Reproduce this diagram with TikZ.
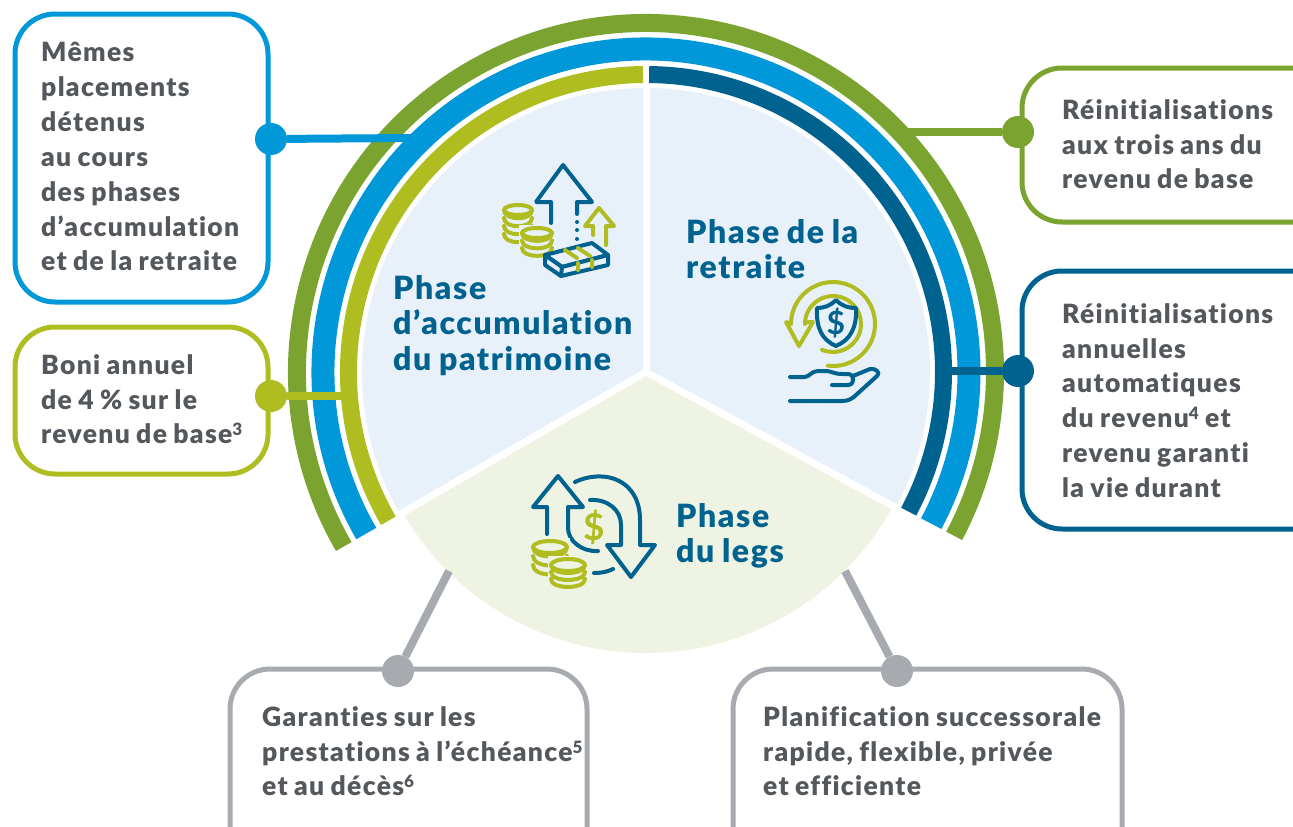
\documentclass[tikz,border=0pt]{standalone}
\usepackage{fontspec}
\setmainfont{Lato}
\newfontfamily\heavyfont[LetterSpace=5,WordSpace=0.82,Ligatures=NoCommon]{Lato Black}
\newfontfamily\titlefont[LetterSpace=5,WordSpace=0.85,Ligatures=NoCommon]{Lato Black}
\definecolor{cgreen}{HTML}{7AA32F}
\definecolor{cblue}{HTML}{0098D8}
\definecolor{clime}{HTML}{B0BD20}
\definecolor{cdark}{HTML}{00628F}
\definecolor{cgray}{HTML}{A7ABB0}
\definecolor{ctext}{HTML}{54585D}
\definecolor{pblue}{HTML}{E8F1FA}
\definecolor{pgreen}{HTML}{EFF3E3}
\newcommand{\supnum}[1]{\raisebox{8pt}{\fontsize{17pt}{17pt}\selectfont #1}}
\tikzset{
  x=1pt,y=-1pt,
  boxstyle/.style={draw=#1,line width=5pt,rounded corners=40pt,fill=white},
  dotstyle/.style={circle,fill=#1,inner sep=0pt,minimum size=32pt},
  linkstyle/.style={draw=#1,line width=8pt},
  bodytext/.style={anchor=north west,align=left,inner sep=0pt,text=ctext,font=\heavyfont\fontsize{26.5pt}{34.9pt}\selectfont},
  titletext/.style={anchor=north west,align=left,inner sep=0pt,text=cdark,font=\titlefont\fontsize{32pt}{35.5pt}\selectfont},
  ringstyle/.style={line width=#1},
  icondark/.style={draw=cdark,line width=4pt,line cap=round,line join=round},
  iconlime/.style={draw=clime,line width=4pt,line cap=round,line join=round},
}
\newcommand{\coinstack}[7]{% x,y,rx,ry,spacing,layers,background
  \fill[#7] (#1-#3-3,#2-#4-3) rectangle (#1+#3+3,#2+#5*#6+#4+3);
  \draw[iconlime,fill=none] (#1,#2) ellipse[x radius=#3pt,y radius=#4pt];
  \foreach \k in {1,...,#6}{
    \draw[iconlime] (#1-#3,#2+#5*\k-#5) .. controls (#1-#3,#2+#5*\k+#4*0.6) and (#1+#3,#2+#5*\k+#4*0.6) .. (#1+#3,#2+#5*\k-#5);
  }
}
\begin{document}
\begin{tikzpicture}
\path[use as bounding box,clip] (0,0) rectangle (1293,827);
\coordinate (c) at (646,372);
% pie
\fill[pblue] (c) -- ++(210:284pt) arc[start angle=210,end angle=-28.5,radius=284pt] -- cycle;
\fill[pgreen] (c) -- ++(210:281pt) arc[start angle=210,end angle=331.5,radius=281pt] -- cycle;
\draw[white,line width=7pt] (c) -- ++(90:290pt);
\draw[white,line width=7pt] (c) -- ++(210:290pt);
\draw[white,line width=7pt] (c) -- ++(331.5:290pt);
% rings
\draw[cgreen,ringstyle=18pt] (c) ++(210:349pt) arc[start angle=210,end angle=-28,radius=349pt];
\draw[cblue,ringstyle=23pt] (c) ++(210:323pt) arc[start angle=210,end angle=-28,radius=323pt];
\draw[clime,ringstyle=17pt] (c) ++(210:297.5pt) arc[start angle=210,end angle=90.6,radius=297.5pt];
\draw[cdark,ringstyle=17pt] (c) ++(89.4:297.5pt) arc[start angle=89.4,end angle=-28,radius=297.5pt];
% connector end points
\coordinate (ja) at (412,138);
\coordinate (jb) at (347,396);
\coordinate (jc) at (905,132);
\coordinate (jd) at (945,371);
\coordinate (je) at (449,571);
\coordinate (jf) at (845,571);
% boxes
\node[boxstyle=cblue,minimum width=253pt,minimum height=288pt] (ba) at (141.5,158) {};
\node[boxstyle=clime,minimum width=253pt,minimum height=147pt] (bb) at (141.5,400.5) {};
\node[boxstyle=cgreen,minimum width=320pt,minimum height=154pt] (bc) at (1182,145) {};
\node[boxstyle=cdark,minimum width=320pt,minimum height=258pt] (bd) at (1182,400) {};
\node[boxstyle=cgray,minimum width=357pt,minimum height=200pt] (be) at (408.5,769) {};
\node[boxstyle=cgray,minimum width=389pt,minimum height=200pt] (bf) at (927.5,769) {};
% dots
\node[dotstyle=cblue] (da) at (271,139) {};
\node[dotstyle=clime] (db) at (271,396) {};
\node[dotstyle=cgreen] (dc) at (1018,132) {};
\node[dotstyle=cdark] (dd) at (1018,371) {};
\node[dotstyle=cgray] (de) at (398,671) {};
\node[dotstyle=cgray] (df) at (897,671) {};
% connectors
\draw[linkstyle=cblue] (da) -- (ja);
\draw[linkstyle=clime] (db) -- (jb);
\draw[linkstyle=cgreen] (dc) -- (jc);
\draw[linkstyle=cdark] (dd) -- (jd);
\draw[linkstyle=cgray] (de) -- (je);
\draw[linkstyle=cgray] (df) -- (jf);
% texts
\node[bodytext] (ta) at (41,42) {Mêmes\\placements\\détenus\\au cours\\des phases\\d’accumulation\\et de la retraite};
\node[bodytext] (tb) at (41,354) {Boni annuel\\de 4 \% sur le\\revenu de base\supnum{3}};
\node[bodytext] (tc) at (1062,99) {Réinitialisations\\aux trois ans du\\revenu de base};
\node[bodytext] (td) at (1062,303) {Réinitialisations\\annuelles\\automatiques\\du revenu\supnum{4} et\\revenu garanti\\la vie durant};
\node[bodytext] (te) at (262,706) {Garanties sur les\\prestations à l’échéance\supnum{5}\\et au décès\supnum{6}};
\node[bodytext] (tf) at (763,706) {Planification successorale\\rapide, flexible, privée\\et efficiente};
\node[titletext] (pa) at (393,275) {Phase\\d’accumulation\\du patrimoine};
\node[titletext] (pb) at (686,219) {Phase de la\\retraite};
\node[titletext] (pc) at (676,503) {Phase\\du legs};
% icon 1
\draw[icondark] (551,223) -- (551,202) -- (536,202) -- (563,165) -- (592,202) -- (577,202) -- (577,214);
\fill[cdark] (577,222) circle[radius=2pt] (577,230) circle[radius=2pt] (577,239) circle[radius=2pt];
\draw[iconlime] (593,235) -- (593,226) -- (585,226) -- (599,208) -- (614,226) -- (606,226) -- (606,245);
\coinstack{518}{210}{14}{5}{8}{4}{pblue}
\coinstack{537}{233}{15}{5}{7.5}{3}{pblue}
\draw[icondark,fill=pblue] (545,255) -- (592,243) -- (608,255) -- (562,267) -- cycle;
\draw[icondark,fill=pblue] (545,255) -- (545,265) -- (561,276) -- (608,265) -- (608,255) -- (562,267) -- cycle;
\draw[icondark] (562,267) -- (561,276);
\draw[iconlime] (565,250) -- (577,258) (578,248) -- (590,256) (578,263) -- (578,270) (592,260) -- (592,267);
% icon 2
\draw[iconlime] (833,324) ++(-97:42pt) arc[start angle=-97,end angle=180,radius=42pt] -- (786,322) -- (799,346) -- (813,322) -- (805,322);
\draw[iconlime] (833,324) ++(-113:28pt) arc[start angle=-113,end angle=180,radius=28pt];
\draw[icondark] (836,300) .. controls (830,306) and (824,308) .. (817,308) .. controls (816,328) and (822,340) .. (836,346) .. controls (850,340) and (857,328) .. (856,308) .. controls (848,308) and (842,306) .. (836,300) -- cycle;
\node[inner sep=0pt,text=cdark,font=\fontsize{32pt}{32pt}\selectfont\bfseries] (sa) at (836,323) {\$};
\draw[icondark] (790,377) -- (805,377) .. controls (810,376) and (812,371) .. (818,371) -- (827,371) .. controls (833,372) and (835,374) .. (842,374) -- (848,374) .. controls (855,374) and (855,385) .. (848,385) -- (832,385);
\draw[icondark] (853,376) -- (870,369) .. controls (876,368) and (881,373) .. (877,376) -- (856,395) .. controls (852,399) and (848,401) .. (842,401) -- (790,401);
% icon 3
\draw[icondark] (547,534) -- (547,507) -- (533,507) -- (558,476) -- (583,507) -- (568,507) -- (568,528) .. controls (568,541) and (582,552) .. (598,551);
\draw[icondark] (575,482) .. controls (605,468) and (640,480) .. (640,520) -- (640,545) -- (655,545) -- (631,577) -- (607,545) -- (621,545) -- (621,525) .. controls (621,510) and (608,499) .. (590,500);
\draw[icondark] (594,573) .. controls (601,573) and (607,572) .. (613,569);
\node[inner sep=0pt,text=clime,font=\fontsize{37pt}{37pt}\selectfont\bfseries] (sb) at (594,527) {\$};
\coinstack{550}{547}{17}{6}{9}{3}{pgreen}
\coinstack{568}{565}{17}{6}{7}{3}{pgreen}
\end{tikzpicture}
\end{document}
